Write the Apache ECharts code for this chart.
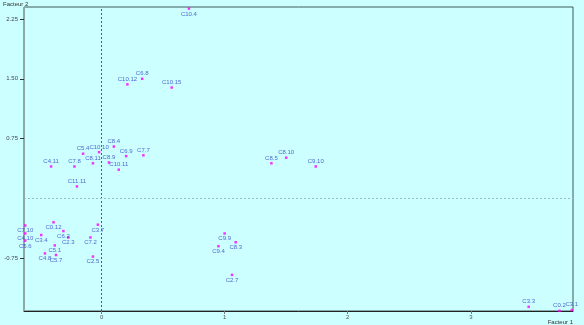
<!DOCTYPE html>
<html><head><meta charset="utf-8">
<script src="https://cdn.jsdelivr.net/npm/echarts@6/dist/echarts.min.js"></script>
<style>html,body{margin:0;padding:0;background:#ccffff}#c{width:584px;height:325px}</style>
</head><body><div id="c"></div>
<script>
var names = ['C10.4','C6.8','C10.12','C10.15','C8.4','C10.10','C5.4','C6.9','C7.7','C7.8','C8.11','C8.9','C10.11','C4.11','C11.11','C8.5','C8.10','C9.10','C9.9','C8.3','C9.4','C2.7','C3.3','C3.1','C0.2','C0.12','C7.10','C4.10','C5.6','C3.4','C6.2','C2.3','C5.1','C4.8','C5.7','C3.7','C7.2','C2.5'];
var xs = [0.71,0.33,0.21,0.57,0.10,-0.02,-0.15,0.20,0.34,-0.22,-0.07,0.06,0.14,-0.41,-0.20,1.38,1.50,1.74,1.00,1.09,0.95,1.06,3.47,3.82,3.72,-0.39,-0.62,-0.62,-0.62,-0.49,-0.31,-0.27,-0.38,-0.46,-0.37,-0.03,-0.09,-0.07];
var ys = [2.38,1.50,1.43,1.39,0.65,0.58,0.56,0.53,0.54,0.40,0.44,0.45,0.36,0.40,0.15,0.44,0.51,0.40,-0.44,-0.55,-0.60,-0.96,-1.36,-1.40,-1.41,-0.30,-0.34,-0.44,-0.53,-0.46,-0.41,-0.49,-0.59,-0.69,-0.71,-0.33,-0.49,-0.73];
var xTicks = [0,1,2,3];
var yTicks = [-0.75,0.75,1.5,2.25];

var data = names.map(function(n,i){
  var y = ys[i], pos;
  if (y > 2.2) pos = 'bottom'; else if (y < -1.2) pos = 'top'; else pos = y >= 0 ? 'top' : 'bottom';
  return {name:n, value:[xs[i], y], label:{position:pos}};
});

var chart = echarts.init(document.getElementById('c'));
chart.setOption({
  backgroundColor:'#ccffff',
  animation:false,
  grid:{left:21,right:11,top:7,bottom:13,show:true,borderColor:'#3f5a5a',borderWidth:1,backgroundColor:'transparent'},
  xAxis:{type:'value',min:-0.63,max:3.83,
    name:'Facteur 1',nameLocation:'end',nameGap:0,
    nameTextStyle:{fontSize:6,color:'#333',fontFamily:'Liberation Sans',align:'right',verticalAlign:'top',padding:[8,0,0,0]},
    axisLine:{onZero:false,lineStyle:{color:'#222',width:1}},
    axisTick:{show:true,length:3,customValues:xTicks,lineStyle:{color:'#777'}},
    axisLabel:{customValues:xTicks,fontSize:6,color:'#555',margin:3,fontFamily:'Liberation Sans'},
    splitLine:{show:false}},
  yAxis:{type:'value',min:-1.4125,max:2.4,
    name:'Facteur 2',nameLocation:'end',nameGap:0,
    nameTextStyle:{fontSize:6,color:'#333',fontFamily:'Liberation Sans',align:'left',verticalAlign:'bottom',padding:[0,0,0,-21]},
    axisLine:{onZero:false,lineStyle:{color:'#8fa8a8',width:1}},
    axisTick:{show:true,length:4,customValues:yTicks,lineStyle:{color:'#333'}},
    axisLabel:{customValues:yTicks,fontSize:6,color:'#445',margin:6,fontFamily:'Liberation Sans',
      formatter:function(v){return v.toFixed(2);}},
    splitLine:{show:false}},
  series:[{
    type:'scatter',
    symbol:'rect',symbolSize:2.5,
    itemStyle:{color:'#ff00ff'},
    label:{show:true,formatter:'{b}',fontSize:6,color:'#2b3fc0',distance:1,fontFamily:'Liberation Sans'},
    data:data,
    markLine:{silent:true,symbol:'none',label:{show:false},
      data:[
        {xAxis:0,lineStyle:{color:'#4c5c6c',type:[2,2],width:1}},
        {yAxis:0,lineStyle:{color:'#9ab8c0',type:[2,2],width:1}}
      ]}
  }]
});
</script></body></html>
